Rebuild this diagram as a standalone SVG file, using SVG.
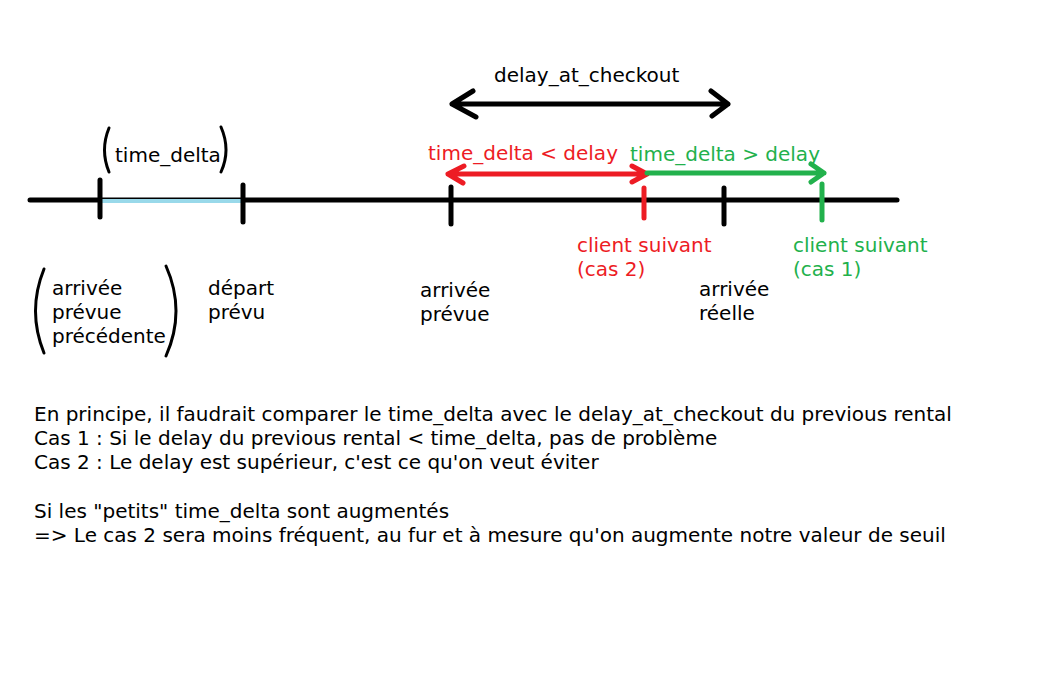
<svg xmlns="http://www.w3.org/2000/svg" width="1040" height="685" viewBox="0 0 1040 685">
<style>
text{font-family:"DejaVu Sans",sans-serif;font-size:20px;fill:#000}
.r{fill:#ed1c24}.g{fill:#22b14c}
.k{stroke:#000;stroke-width:5;stroke-linecap:round;fill:none;stroke-linejoin:round}
.rs{stroke:#ed1c24;stroke-width:5;stroke-linecap:round;fill:none;stroke-linejoin:round}
.gs{stroke:#22b14c;stroke-width:5;stroke-linecap:round;fill:none;stroke-linejoin:round}
.p{stroke:#000;stroke-width:3;fill:none;stroke-linecap:round}
</style>
<rect width="1040" height="685" fill="#fff"/>
<g id="connectors">
<line class="k" x1="30" y1="200" x2="897" y2="200"/>
<line x1="101" y1="201" x2="242" y2="201" stroke="#99d9ea" stroke-width="4"/>
<path class="k" d="M452 104H728M473 91L452 104L476 117M711 91L728 104L712 116"/>
<path class="rs" d="M448 174H647M464 166L448 174L463 183M632 166L647 174L632 182"/>
<path class="gs" d="M647 173H824M811 164L824 173L811 182"/>
</g>
<g id="ticks">
<line class="k" x1="100" y1="180" x2="100" y2="217"/>
<line class="k" x1="243" y1="185" x2="243" y2="222"/>
<line class="k" x1="451" y1="187" x2="451" y2="224"/>
<line class="k" x1="724" y1="188" x2="724" y2="224"/>
<line class="rs" x1="644" y1="188" x2="644" y2="218"/>
<line class="gs" x1="822" y1="184" x2="822" y2="220"/>
</g>
<g id="time_delta">
<path class="p" d="M109 128Q100 150 109 172"/>
<path class="p" d="M221 127Q231 150 221 172"/>
<text x="115" y="162">time_delta</text>
</g>
<g id="delay_at_checkout"><text x="494" y="82">delay_at_checkout</text></g>
<g id="red_label"><text class="r" x="428" y="160">time_delta &lt; delay</text></g>
<g id="green_label"><text class="g" x="630" y="161">time_delta &gt; delay</text></g>
<g id="client2"><text class="r" x="577" y="252">client suivant</text><text class="r" x="577" y="276">(cas 2)</text></g>
<g id="client1"><text class="g" x="793" y="252">client suivant</text><text class="g" x="793" y="276">(cas 1)</text></g>
<g id="arrivee_prevue_prec">
<path class="p" d="M44 269Q27 311 44 353"/>
<path class="p" d="M166 266Q186 311 166 356"/>
<text x="52" y="295">arrivée</text><text x="52" y="319">prévue</text><text x="52" y="343">précédente</text>
</g>
<g id="depart_prevu"><text x="208" y="295">départ</text><text x="208" y="319">prévu</text></g>
<g id="arrivee_prevue"><text x="420" y="297">arrivée</text><text x="420" y="321">prévue</text></g>
<g id="arrivee_reelle"><text x="699" y="296">arrivée</text><text x="699" y="320">réelle</text></g>
<g id="notes">
<text x="34" y="421">En principe, il faudrait comparer le time_delta avec le delay_at_checkout du previous rental</text>
<text x="34" y="445">Cas 1 : Si le delay du previous rental &lt; time_delta, pas de problème</text>
<text x="34" y="469">Cas 2 : Le delay est supérieur, c'est ce qu'on veut éviter</text>
<text x="34" y="518">Si les "petits" time_delta sont augmentés</text>
<text x="34" y="542">=&gt; Le cas 2 sera moins fréquent, au fur et à mesure qu'on augmente notre valeur de seuil</text>
</g>
</svg>
